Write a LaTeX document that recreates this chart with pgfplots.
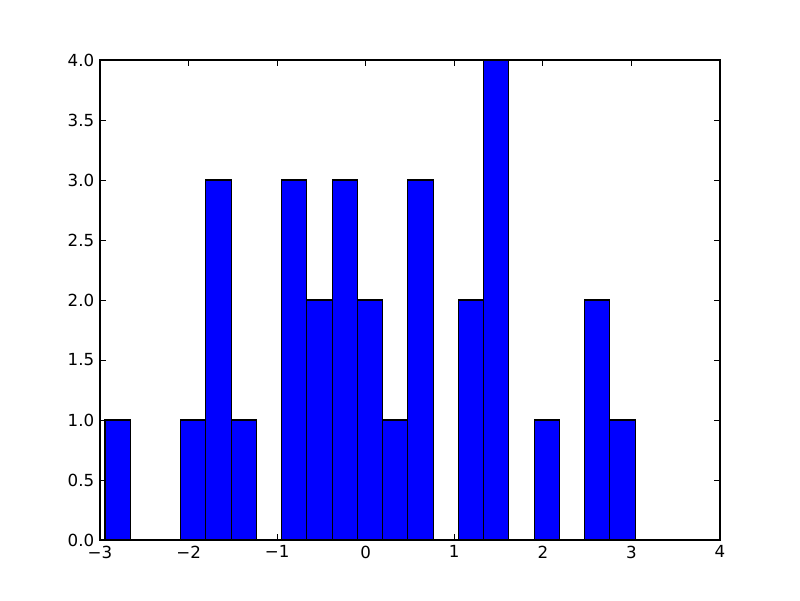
\documentclass[border=0pt]{standalone}
\usepackage{fontspec}
\setmainfont{DejaVu Sans}
\usepackage{pgfplots}
\pgfplotsset{compat=1.18}
\begin{document}
\begin{tikzpicture}
\fontsize{12}{14}\selectfont
\begin{axis}[
  name=ax,
  scale only axis,
  width=446.4pt, height=345.6pt,
  xmin=-3, xmax=4, ymin=0, ymax=4,
  xtick={-3,-2,-1,0,1,2,3,4},
  xticklabels={−3,−2,−1,0,1,2,3,4},
  ytick={0,0.5,1,1.5,2,2.5,3,3.5,4},
  yticklabels={0.0,0.5,1.0,1.5,2.0,2.5,3.0,3.5,4.0},
  tick align=inside,
  major tick length=4pt,
  tick style={black, line width=0.6pt},
  axis line style={black, line width=0.8pt},
  ticklabel style={font=\fontsize{12}{14}\selectfont},
  /pgf/number format/assume math mode=true,
  xtick pos=both, ytick pos=both,
  axis on top=false,
]
\addplot[ybar, bar width=0.285, bar shift=0pt, fill={rgb,255:red,0;green,0;blue,255}, draw=black, line width=0.8pt] coordinates {
(-2.8015,1) (-1.9465,1) (-1.6615,3) (-1.3765,1) (-0.8065,3) (-0.5215,2)
(-0.2365,3) (0.0485,2) (0.3335,1) (0.6185,3) (1.1885,2) (1.4735,4)
(2.0435,1) (2.6135,2) (2.8985,1)
};
\end{axis}
\pgfresetboundingbox
\path ([xshift=-72pt,yshift=-43.2pt]ax.south west) rectangle ([xshift=57.6pt,yshift=43.2pt]ax.north east);
\end{tikzpicture}
\end{document}
